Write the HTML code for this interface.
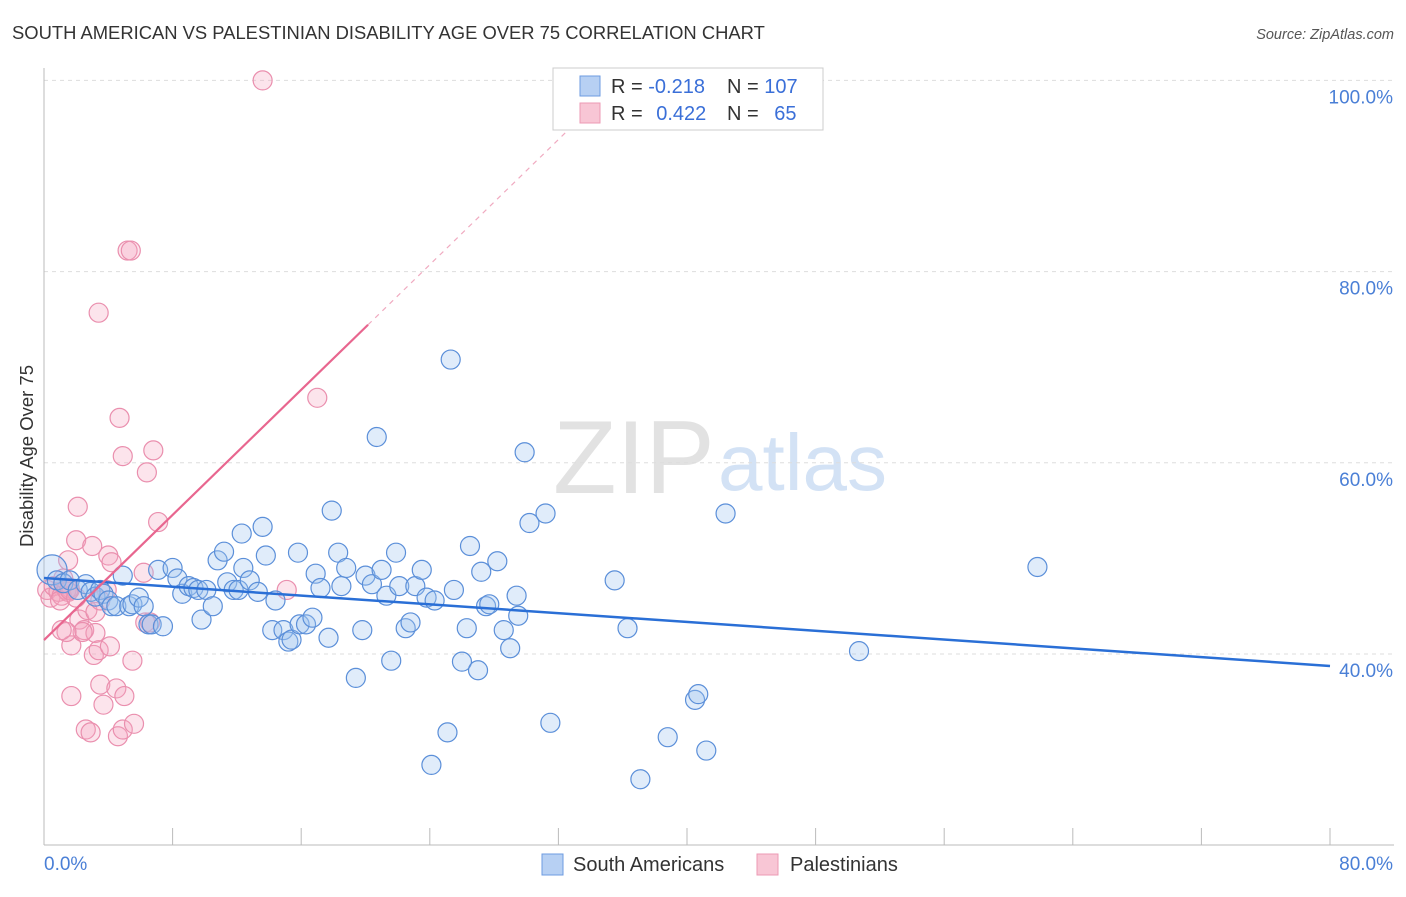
<!DOCTYPE html>
<html><head><meta charset="utf-8"><style>
body{margin:0;background:#fff;font-family:"Liberation Sans",sans-serif;}
svg text{font-family:"Liberation Sans",sans-serif;}
</style></head><body>
<svg id="c" width="1406" height="892" xmlns="http://www.w3.org/2000/svg">
<text x="12" y="39" font-size="18.4" fill="#333">SOUTH AMERICAN VS PALESTINIAN DISABILITY AGE OVER 75 CORRELATION CHART</text>
<text x="1394" y="39" font-size="14.5" fill="#555" font-style="italic" text-anchor="end">Source: ZipAtlas.com</text>
<text transform="translate(33,456) rotate(-90)" font-size="18.5" fill="#333" text-anchor="middle">Disability Age Over 75</text>
<g>
<text x="553" y="493" font-size="104" font-family="Liberation Serif" fill="#e2e2e2">ZIP</text>
<text x="718" y="490" font-size="80" fill="#d3e2f5">atlas</text>
</g>
<g id="grid"></g><g id="axes"></g><g id="pts"></g><g id="trend"></g>
<g>
<rect x="553" y="68" width="270" height="62" fill="#fff" stroke="#ccc"/>
<rect x="580" y="76" width="20" height="20" fill="#b7d0f3" stroke="#6d9be0"/>
<rect x="580" y="103" width="20" height="20" fill="#f8c6d5" stroke="#ec9ab4"/>
<text x="611" y="93" font-size="20" fill="#333">R = <tspan fill="#3a6fd8">-0.218</tspan></text>
<text x="727" y="93" font-size="20" fill="#333">N = <tspan fill="#3a6fd8">107</tspan></text>
<text x="611" y="120" font-size="20" fill="#333">R = <tspan fill="#3a6fd8" dx="8">0.422</tspan></text>
<text x="727" y="120" font-size="20" fill="#333">N = <tspan fill="#3a6fd8" dx="10">65</tspan></text>
</g>
<g>
<rect x="542" y="854" width="21" height="21" fill="#b7d0f3" stroke="#6d9be0"/>
<text x="573" y="871" font-size="20" fill="#333">South Americans</text>
<rect x="757" y="854" width="21" height="21" fill="#f8c6d5" stroke="#ec9ab4"/>
<text x="790" y="871" font-size="20" fill="#333">Palestinians</text>
</g>
</svg>
<script>
const blueX=[0.5,0.8,1.2,1.6,2.1,2.6,2.9,3.2,3.5,3.7,4.0,4.2,4.5,4.9,5.3,5.5,5.9,6.2,6.5,6.7,7.1,7.4,8.0,8.3,8.6,9.0,9.3,9.6,10.1,9.8,10.5,10.8,11.2,11.4,11.8,12.1,12.3,12.4,12.8,13.3,13.6,13.8,14.4,14.2,14.9,15.2,15.4,15.8,15.9,16.3,16.7,16.9,17.2,17.7,17.9,18.3,18.5,18.8,19.4,19.8,20.0,20.4,20.7,21.0,21.3,21.6,21.9,22.1,22.5,22.8,23.1,23.5,23.8,24.3,24.1,25.1,25.3,25.5,26.0,26.3,26.5,27.0,27.2,27.5,27.7,28.2,28.6,29.0,29.4,29.5,29.9,30.2,31.2,31.5,35.5,36.3,37.1,38.8,40.5,40.7,41.2,42.4,50.7,61.8];
const blueY=[48.8,47.7,47.4,47.7,46.7,47.3,46.5,46.0,46.7,46.3,45.6,45.0,45.0,48.2,45.0,45.2,45.9,45.0,43.1,43.1,48.8,42.9,49.0,47.9,46.3,47.1,46.9,46.7,46.7,43.6,45.0,49.8,50.7,47.5,46.7,46.7,52.6,49.0,47.7,46.5,53.3,50.3,45.6,42.5,42.5,41.3,41.5,50.6,43.1,43.1,43.8,48.4,46.9,41.7,55.0,50.6,47.1,49.0,37.5,42.5,48.2,47.3,62.7,48.8,46.1,39.3,50.6,47.1,42.7,43.3,47.1,48.8,45.9,45.6,28.4,31.8,70.8,46.7,39.2,42.7,51.3,38.3,48.6,45.0,45.2,49.7,42.5,40.6,46.1,44.0,61.1,53.7,54.7,32.8,47.7,42.7,26.9,31.3,35.2,35.8,29.9,54.7,40.3,49.1];
const pinkX=[0.2,0.4,0.6,0.9,1.1,1.4,1.5,1.6,2.0,2.1,1.7,1.7,2.2,2.5,2.7,3.0,3.1,3.2,3.4,3.4,3.5,3.7,3.9,4.0,4.2,4.5,4.6,4.9,5.0,4.7,4.9,5.2,5.4,5.5,5.6,6.2,6.3,6.6,6.4,6.8,7.1,13.6,15.1,17.0,2.6,2.9,1.5,1.0,1.2,4.1,3.2,2.4,1.4,1.1,1.6,2.0,3.5];
const pinkY=[46.7,45.9,47.1,46.5,46.1,46.7,49.8,46.9,51.9,55.4,35.6,40.9,43.6,42.5,44.6,51.3,39.9,42.2,75.7,40.4,36.8,34.7,46.7,50.3,49.6,36.4,31.4,32.1,35.6,64.7,60.7,82.2,82.2,39.3,32.7,48.5,43.3,43.3,59.0,61.3,53.8,100,46.7,66.8,32.1,31.8,46.5,45.6,47.9,40.8,44.4,42.3,42.3,42.5,46.7,45.9,45.6];
const blueTrend=[47.95,38.75];
const pinkTrend=[41.46,1.636];
const yTicks=[100,80,60,40];
const NS='http://www.w3.org/2000/svg';
const X=v=>44+v*16.075, Y=v=>654-(v-40)*9.56;
function mk(t,a,p){const e=document.createElementNS(NS,t);for(const k in a)e.setAttribute(k,a[k]);p.appendChild(e);return e;}
const grid=document.getElementById('grid'),axes=document.getElementById('axes'),pts=document.getElementById('pts'),tr=document.getElementById('trend');
yTicks.forEach(t=>{
 const l=mk('line',{x1:44,x2:1394,y1:Y(t),y2:Y(t),stroke:'#ddd','stroke-dasharray':'4,4'},grid);
 
 
 const tx=mk('text',{x:1393,y:Y(t)+23,'font-size':19,fill:'#4a7fd6','text-anchor':'end'},axes);
 tx.textContent=t.toFixed(1)+'%';
 
 
});
const ya=mk('line',{x1:44,x2:44,y1:68,y2:845,stroke:'#bbb'},axes);


const xa=mk('line',{x1:44,x2:1394,y1:845,y2:845,stroke:'#bbb'},axes);


for(let i=0;i<=10;i++){const t=mk('line',{x1:X(i*8),x2:X(i*8),y1:828,y2:845,stroke:'#bbb'},axes);
 
 }
const x0=mk('text',{x:44,y:870,'font-size':19,fill:'#4a7fd6'},axes);x0.textContent='0.0%';


const x1=mk('text',{x:1393,y:870,'font-size':19,fill:'#4a7fd6','text-anchor':'end'},axes);x1.textContent='80.0%';


pinkX.forEach((v,i)=>{const c=mk('circle',{cx:X(v),cy:Y(pinkY[i]),r:9.5,fill:'rgba(245,165,192,0.3)',stroke:'#ea8fae','stroke-width':1.2},pts);
 
 });
blueX.forEach((v,i)=>{const c=mk('circle',{cx:X(v),cy:Y(blueY[i]),r:i==0?15:9.5,fill:'rgba(160,196,240,0.32)',stroke:'#5b8fd9','stroke-width':1.2},pts);
 
 });
const bl=mk('line',{x1:X(0),y1:Y(blueTrend[0]),x2:X(80),y2:Y(blueTrend[1]),stroke:'#2a6fd6','stroke-width':2.5},tr);


const pe=20.16, pd=33.3;
const pl=mk('line',{x1:X(0),y1:Y(pinkTrend[0]),x2:X(pe),y2:Y(pinkTrend[0]+pinkTrend[1]*pe),stroke:'#e8668f','stroke-width':2.2},tr);


const pdl=mk('line',{x1:X(pe),y1:Y(pinkTrend[0]+pinkTrend[1]*pe),x2:X(pd),y2:Y(pinkTrend[0]+pinkTrend[1]*pd),stroke:'#f0aac0','stroke-width':1.2,'stroke-dasharray':'5,5'},tr);


</script>
</body></html>
